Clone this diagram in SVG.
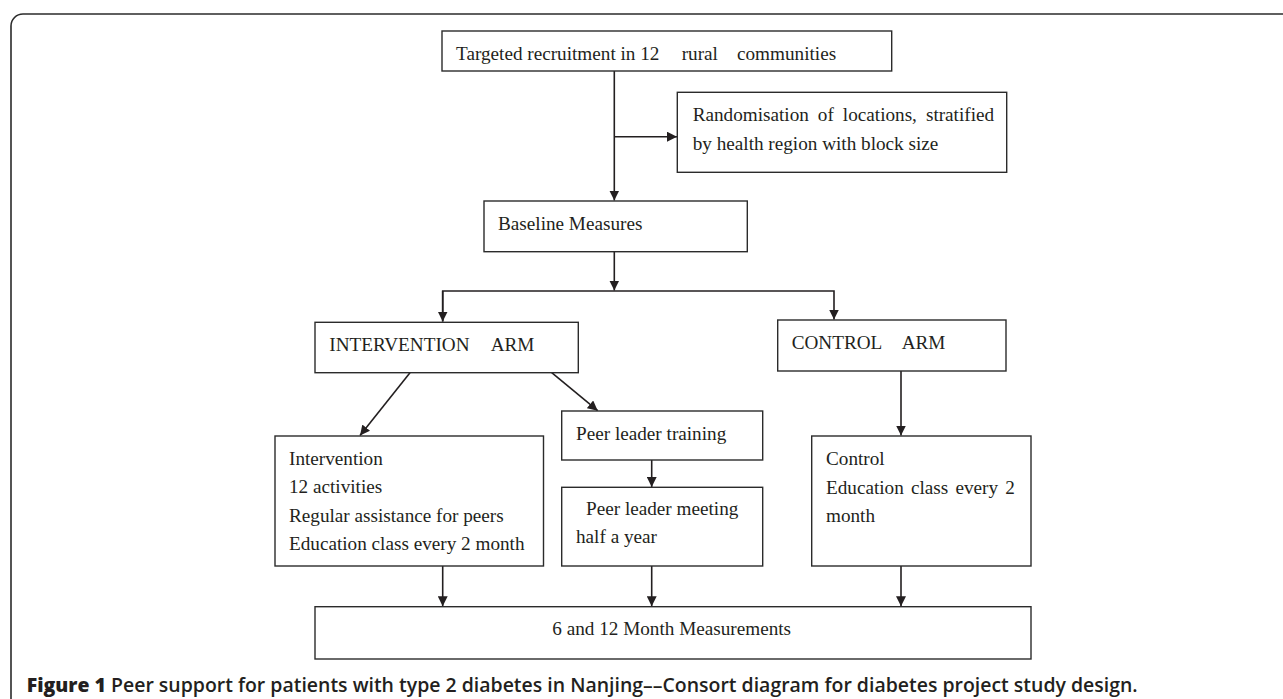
<svg xmlns="http://www.w3.org/2000/svg" width="1283" height="699" viewBox="0 0 1283 699">
<style>
.box{fill:#fff;stroke:#2b2b2b;stroke-width:1.4}
.t{font-family:"Liberation Serif","Times New Roman",serif;font-size:19.2px;fill:#231f20}
.c{stroke:#231f20;stroke-width:1.6;fill:none}
.cap{font-family:"Open Sans","Liberation Sans",sans-serif;font-size:20px;font-weight:600;fill:#231f20}
</style>
<defs>
<marker id="ah" markerUnits="userSpaceOnUse" markerWidth="11" markerHeight="10" refX="10" refY="5" orient="auto">
<path d="M0,0 L10,5 L0,10 z" fill="#231f20"/>
</marker>
</defs>
<rect width="1283" height="699" fill="#fff"/>
<path d="M11,699 V26 A12,12 0 0 1 23,14 H1283" fill="none" stroke="#2b2b2b" stroke-width="1.6"/>

<g id="connectors">
<line class="c" x1="614.3" y1="71" x2="614.3" y2="200.5" marker-end="url(#ah)"/>
<line class="c" x1="614.3" y1="136.7" x2="677" y2="136.7" marker-end="url(#ah)"/>
<line class="c" x1="614.3" y1="252" x2="614.3" y2="290.5" marker-end="url(#ah)"/>
<polyline class="c" points="442.7,321.5 442.7,291 834,291 834,319.5" marker-end="url(#ah)"/>
<line class="c" x1="442.7" y1="291" x2="442.7" y2="321.5" marker-end="url(#ah)"/>
<line class="c" x1="410" y1="372.7" x2="360" y2="435.5" marker-end="url(#ah)"/>
<line class="c" x1="551.7" y1="372.7" x2="597.7" y2="410.7" marker-end="url(#ah)"/>
<line class="c" x1="651.7" y1="460" x2="651.7" y2="487" marker-end="url(#ah)"/>
<line class="c" x1="901" y1="371" x2="901" y2="435.5" marker-end="url(#ah)"/>
<line class="c" x1="442.7" y1="566" x2="442.7" y2="606.2" marker-end="url(#ah)"/>
<line class="c" x1="651.7" y1="566" x2="651.7" y2="606.2" marker-end="url(#ah)"/>
<line class="c" x1="901" y1="566" x2="901" y2="606.2" marker-end="url(#ah)"/>
</g>

<g id="recruitment">
<rect class="box" x="442" y="31" width="449.7" height="40"/>
<text class="t" y="59.5"><tspan x="456">Targeted recruitment in 12</tspan><tspan x="681.7">rural</tspan><tspan x="737">communities</tspan></text>
</g>

<g id="randomisation">
<rect class="box" x="677.3" y="92.3" width="329.4" height="80"/>
<text class="t" x="692.7" y="120.7" word-spacing="4.2">Randomisation of locations, stratified</text>
<text class="t" x="692.7" y="150">by health region with block size</text>
</g>

<g id="baseline">
<rect class="box" x="484" y="201" width="263.3" height="50.7"/>
<text class="t" x="498" y="229.5">Baseline Measures</text>
</g>

<g id="intervention-arm">
<rect class="box" x="315" y="322.3" width="263.3" height="50.4"/>
<text class="t" y="351"><tspan x="329.3">INTERVENTION</tspan><tspan x="490.7">ARM</tspan></text>
</g>

<g id="control-arm">
<rect class="box" x="777.7" y="320" width="228.3" height="51"/>
<text class="t" y="349"><tspan x="791.7">CONTROL</tspan><tspan x="901.7">ARM</tspan></text>
</g>

<g id="intervention">
<rect class="box" x="275" y="436" width="268.5" height="130"/>
<text class="t" x="289" y="465">Intervention</text>
<text class="t" x="289" y="493">12 activities</text>
<text class="t" x="289" y="521.7">Regular assistance for peers</text>
<text class="t" x="289" y="550">Education class every 2 month</text>
</g>

<g id="peer-training">
<rect class="box" x="561.7" y="411" width="201" height="49"/>
<text class="t" x="576" y="440">Peer leader training</text>
</g>

<g id="peer-meeting">
<rect class="box" x="561.7" y="487.3" width="201" height="78.7"/>
<text class="t" x="586" y="515">Peer leader meeting</text>
<text class="t" x="576" y="543.3">half a year</text>
</g>

<g id="control">
<rect class="box" x="811.7" y="436" width="219.3" height="130"/>
<text class="t" x="826" y="465">Control</text>
<text class="t" x="826" y="493.5" word-spacing="2.4">Education class every 2</text>
<text class="t" x="826" y="522">month</text>
</g>

<g id="measurements">
<rect class="box" x="315" y="606.7" width="716" height="52.3"/>
<text class="t" x="552.3" y="635">6 and 12 Month Measurements</text>
</g>

<text class="cap" x="26.7" y="691.5" textLength="1111" lengthAdjust="spacingAndGlyphs"><tspan font-weight="800">Figure 1</tspan> Peer support for patients with type 2 diabetes in Nanjing––Consort diagram for diabetes project study design.</text>
</svg>
